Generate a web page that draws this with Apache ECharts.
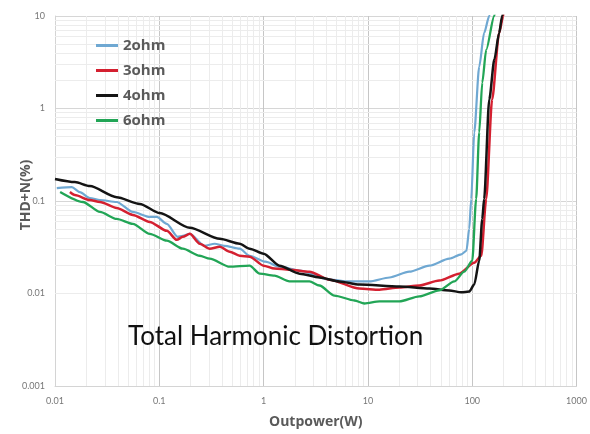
<!DOCTYPE html>
<html>
<head>
<meta charset="utf-8">
<script src="https://cdn.jsdelivr.net/npm/echarts@6/dist/echarts.min.js"></script>
<style>
  html, body { margin: 0; padding: 0; background: #fff; }
  #main { width: 590px; height: 434px; }
</style>
</head>
<body>
<div id="main"></div>
<script>
// THD+N vs output power [W, %]
var names = ['2ohm', '3ohm', '4ohm', '6ohm'];
var colors = ['#6fa8d2', '#d42030', '#141414', '#22a556'];

var ohm2 = [
  [0.0104, 0.138], [0.0145, 0.1415], [0.0173, 0.125], [0.0216, 0.1077], [0.027, 0.1025],
  [0.039, 0.0976], [0.0557, 0.0762], [0.081, 0.0673], [0.0946, 0.0673], [0.118, 0.0566],
  [0.15, 0.041], [0.168, 0.042], [0.196, 0.0442], [0.27, 0.0328], [0.34, 0.0345],
  [0.42, 0.0328], [0.589, 0.0305], [0.734, 0.0256], [1.04, 0.0221], [1.42, 0.0195],
  [2.21, 0.0177], [4.28, 0.0141], [6.65, 0.0135], [10.3, 0.0135], [16.1, 0.0149],
  [24.9, 0.0172], [38.8, 0.020], [60.2, 0.0238], [78.5, 0.0265], [88, 0.029],
  [93.5, 0.05], [97.8, 0.105], [104.5, 0.552], [116.6, 2.83], [130, 6.56], [145.5, 10], [152, 13]
];
var ohm3 = [
  [0.0139, 0.125], [0.0155, 0.116], [0.0216, 0.1025], [0.027, 0.0976], [0.039, 0.0841],
  [0.0557, 0.0707], [0.081, 0.0594], [0.118, 0.0476], [0.147, 0.038], [0.168, 0.041],
  [0.196, 0.0442], [0.244, 0.0345], [0.304, 0.0305], [0.38, 0.032], [0.473, 0.0283],
  [0.589, 0.0256], [0.734, 0.025], [1.0, 0.020], [1.27, 0.0186], [1.77, 0.0181],
  [2.75, 0.0172], [4.28, 0.0141], [8.29, 0.0113], [12.9, 0.011], [20, 0.0116],
  [31.1, 0.0122], [48.3, 0.0138], [75.1, 0.0164], [104.5, 0.0215], [122, 0.0256],
  [136, 0.105], [155, 1.25], [181, 6.56], [198, 10], [206, 13]
];
var ohm4 = [
  [0.01, 0.173], [0.0155, 0.16], [0.0216, 0.145], [0.039, 0.110], [0.065, 0.093],
  [0.101, 0.074], [0.196, 0.0513], [0.38, 0.039], [0.589, 0.0345], [0.734, 0.0305],
  [1.0, 0.0269], [1.42, 0.020], [2.21, 0.0164], [3.43, 0.0149], [5.33, 0.0135],
  [8.29, 0.0125], [20, 0.0119], [38.8, 0.0113], [60.2, 0.0108], [78.5, 0.0103],
  [93.5, 0.0105], [104.5, 0.0125], [116.6, 0.0226], [124.7, 0.064], [130, 0.105],
  [145.5, 1.25], [163, 3.4], [181, 6.56], [193.6, 10], [204, 13]
];
var ohm6 = [
  [0.0112, 0.125], [0.0185, 0.0976], [0.027, 0.0762], [0.039, 0.064], [0.0557, 0.0566],
  [0.081, 0.0442], [0.118, 0.0372], [0.168, 0.0305], [0.244, 0.0256], [0.304, 0.0238],
  [0.473, 0.0195], [0.734, 0.020], [0.916, 0.0164], [1.27, 0.0156], [1.77, 0.0135],
  [2.75, 0.0135], [3.43, 0.0122], [4.78, 0.0095], [7.42, 0.0084], [9.26, 0.0078],
  [12.9, 0.0082], [20, 0.0082], [31.1, 0.0093], [48.3, 0.0108], [67.3, 0.0135],
  [83.8, 0.0172], [100, 0.0226], [109, 0.105], [116.6, 0.552], [124.7, 1.9],
  [136, 4.31], [162.5, 10], [170, 13]
];

var xTicks = [0.01, 0.1, 1, 10, 100, 1000];
var yTicks = [0.001, 0.01, 0.1, 1, 10];

// light grid lines at 2..9 of every decade
function minorLines(ticks) {
  var out = [];
  for (var i = 0; i < ticks.length - 1; i++) {
    for (var m = 2; m <= 9; m++) out.push(+(ticks[i] * m).toPrecision(3));
  }
  return out;
}

function lineSeries(name, data, color, width) {
  return {
    name: name,
    type: 'line',
    z: 3,
    data: data,
    smooth: 0.25,
    smoothMonotone: 'x',
    symbol: 'none',
    clip: true,
    lineStyle: { color: color, width: width },
    itemStyle: { color: color }
  };
}

function getOption() {
  var gridMarks = minorLines(xTicks).map(function (v) { return { xAxis: v }; })
    .concat(minorLines(yTicks).map(function (v) { return { yAxis: v }; }));

  return {
    animation: false,
    backgroundColor: '#fff',
    textStyle: { fontFamily: 'Lato, "Open Sans", sans-serif' },
    title: {
      text: 'Total Harmonic Distortion',
      left: 123,
      top: 319,
      textStyle: { fontFamily: 'Lato', fontSize: 26, fontWeight: 'normal', color: '#111' }
    },
    legend: {
      orient: 'vertical',
      left: 91,
      top: 32,
      itemGap: 8,
      itemWidth: 22,
      itemHeight: 3,
      icon: 'rect',
      selectedMode: false,
      data: names,
      textStyle: { fontFamily: 'Open Sans', fontSize: 15, fontWeight: 'bold', color: '#5a5a5a', lineHeight: 17 }
    },
    grid: { left: 55, right: 13, top: 16, bottom: 46 },
    xAxis: {
      type: 'log',
      logBase: 10,
      min: 0.01,
      max: 1000,
      name: 'Outpower(W)',
      nameLocation: 'middle',
      nameGap: 29,
      nameMoveOverlap: false,
      nameTextStyle: { fontFamily: 'Open Sans', fontSize: 14, fontWeight: 'bold', color: '#5a5a5a' },
      axisLine: { show: true, lineStyle: { color: '#d4d4d4' } },
      axisTick: { show: false },
      axisLabel: {
        fontSize: 9, color: '#777', margin: 11,
        formatter: function (v) { return String(+v.toPrecision(3)); }
      },
      splitLine: { show: true, lineStyle: { color: '#c6c6c6' } }
    },
    yAxis: {
      type: 'log',
      logBase: 10,
      min: 0.001,
      max: 10,
      name: 'THD+N(%)',
      nameLocation: 'middle',
      nameGap: 22,
      nameMoveOverlap: false,
      nameTextStyle: { fontFamily: 'Open Sans', fontSize: 14, fontWeight: 'bold', color: '#5a5a5a', padding: [0, 0, 0, 12] },
      axisLine: { show: true, lineStyle: { color: '#d4d4d4' } },
      axisTick: { show: false },
      axisLabel: {
        fontSize: 9, color: '#777', margin: 10,
        formatter: function (v) { return String(+v.toPrecision(3)); }
      },
      splitLine: { show: true, lineStyle: { color: '#d6d6d6' } }
    },
    series: [
      {
        name: 'grid',
        type: 'line',
        z: 1,
        data: [],
        silent: true,
        markLine: {
          z: 1,
          silent: true,
          symbol: 'none',
          label: { show: false },
          lineStyle: { color: '#ececec', type: 'solid', width: 1 },
          data: gridMarks
        }
      },
      lineSeries(names[0], ohm2, colors[0], 2.2),
      lineSeries(names[1], ohm3, colors[1], 2.5),
      lineSeries(names[2], ohm4, colors[2], 2.5),
      lineSeries(names[3], ohm6, colors[3], 2.3)
    ]
  };
}

var chart = echarts.init(document.getElementById('main'), null, { renderer: 'canvas' });
chart.setOption(getOption());
</script>
</body>
</html>
